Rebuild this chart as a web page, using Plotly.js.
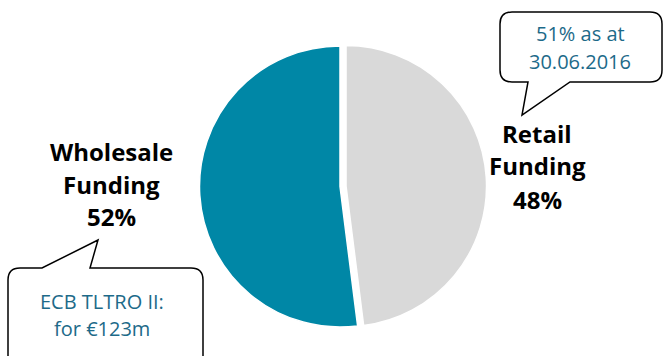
<!DOCTYPE html>
<html><head><meta charset="utf-8">
<script src="https://cdn.plot.ly/plotly-3.0.1.min.js"></script>
<style>html,body{margin:0;padding:0;background:#fff}#c{width:664px;height:356px}</style>
</head><body><div id="c"></div>
<script>
const categories = ["Retail Funding", "Wholesale Funding"];
const shares = [48, 52];
const sliceLabelLines = [["Retail", "Funding", "48%"], ["Wholesale", "Funding", "52%"]];
const calloutLines = [["51% as at", "30.06.2016"], ["ECB TLTRO II:", "for €123m"]];

const W = 664, H = 356;
const px = x => x / W, py = y => 1 - y / H;

function bubble(x0, y0, x1, y1, r, tail) {
  let d = `M${px(x0 + r)},${py(y0)} `;
  if (tail.edge === 'top') {
    d += `L${px(tail.a)},${py(y0)} L${px(tail.tx)},${py(tail.ty)} L${px(tail.b)},${py(y0)} `;
  }
  d += `L${px(x1 - r)},${py(y0)} Q${px(x1)},${py(y0)} ${px(x1)},${py(y0 + r)} `;
  d += `L${px(x1)},${py(y1 - r)} Q${px(x1)},${py(y1)} ${px(x1 - r)},${py(y1)} `;
  if (tail.edge === 'bottom') {
    d += `L${px(tail.b)},${py(y1)} L${px(tail.tx)},${py(tail.ty)} L${px(tail.a)},${py(y1)} `;
  }
  d += `L${px(x0 + r)},${py(y1)} Q${px(x0)},${py(y1)} ${px(x0)},${py(y1 - r)} `;
  d += `L${px(x0)},${py(y0 + r)} Q${px(x0)},${py(y0)} ${px(x0 + r)},${py(y0)} Z`;
  return d;
}

const shapes = [
  {type: 'path', xref: 'paper', yref: 'paper',
   path: bubble(500, 12, 662, 82, 12, {edge: 'bottom', a: 528, b: 570, tx: 522, ty: 115}),
   fillcolor: '#ffffff', line: {color: '#000000', width: 1.5}},
  {type: 'path', xref: 'paper', yref: 'paper',
   path: bubble(8, 268, 203, 380, 12, {edge: 'top', a: 42, b: 90, tx: 98, ty: 240}),
   fillcolor: '#ffffff', line: {color: '#000000', width: 1.5}}
];

const labelFont = {family: '"Open Sans", sans-serif', size: 24, color: '#000000', weight: 'bold'};
const calloutFont = {family: '"Open Sans", sans-serif', size: 20, color: '#1D6A89'};

const annotations = [];
function addLines(lines, cx, ys, font, bold) {
  lines.forEach((t, i) => annotations.push({
    xref: 'paper', yref: 'paper', x: px(cx), y: py(ys[i]),
    text: bold ? '<b>' + t + '</b>' : t, showarrow: false, font: font,
    xanchor: 'center', yanchor: 'middle'
  }));
}
addLines(sliceLabelLines[0], 537, [134, 166, 199], labelFont, true);
addLines(sliceLabelLines[1], 112, [151, 184, 216], labelFont, true);
addLines(calloutLines[0], 580, [33, 61], calloutFont, false);
addLines(calloutLines[1], 102, [301, 328], calloutFont, false);

const pull = 0.043, r = 140.5, cx = 340, cy = 186.5;
const half = r * (1 + pull);
Plotly.newPlot('c', [{
  type: 'pie',
  labels: categories,
  values: shares,
  sort: false,
  direction: 'clockwise',
  rotation: 0,
  pull: [pull, 0],
  textinfo: 'none',
  hoverinfo: 'none',
  marker: {colors: ['#D9D9D9', '#0087A6'], line: {color: '#ffffff', width: 1.5}},
  domain: {x: [px(cx - half), px(cx + half)], y: [py(cy + half), py(cy - half)]}
}], {
  width: W, height: H,
  margin: {l: 0, r: 0, t: 0, b: 0},
  paper_bgcolor: '#ffffff',
  showlegend: false,
  shapes: shapes,
  annotations: annotations
}, {displayModeBar: false, staticPlot: true});
</script></body></html>
